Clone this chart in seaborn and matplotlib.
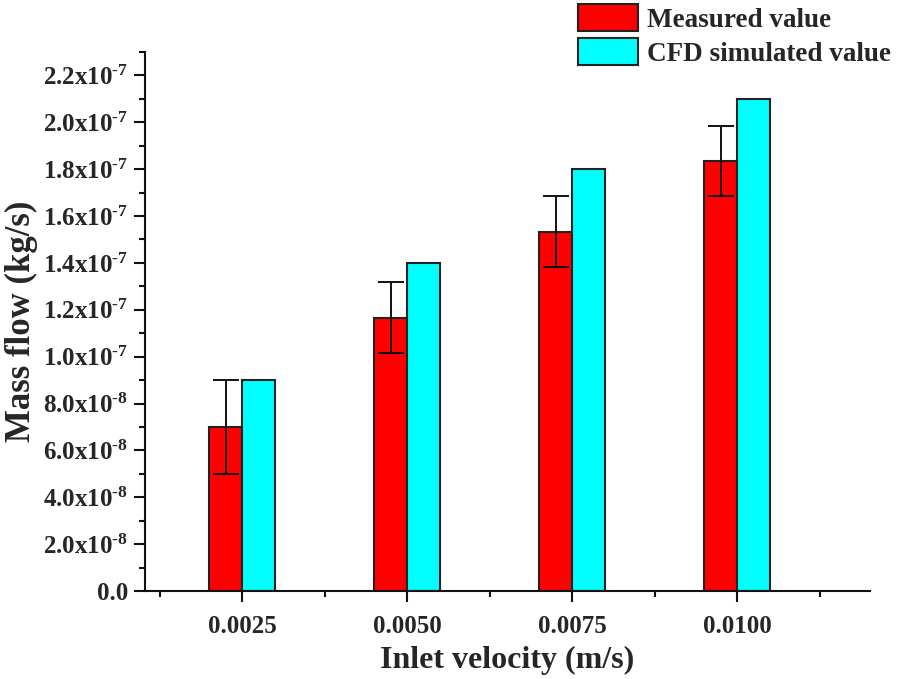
import numpy as np
import pandas as pd
import matplotlib
matplotlib.use("Agg")
import matplotlib.pyplot as plt
import seaborn as sns
from matplotlib.ticker import MultipleLocator, FuncFormatter, FixedLocator

velocities = ["0.0025", "0.0050", "0.0075", "0.0100"]
measured = [7.0e-8, 1.167e-7, 1.534e-7, 1.835e-7]
measured_err = [2.0e-8, 1.5e-8, 1.5e-8, 1.5e-8]
cfd = [9.0e-8, 1.4e-7, 1.8e-7, 2.1e-7]
series_names = ["Measured value", "CFD simulated value"]
colors = ["#ff0000", "#00ffff"]

sns.set_theme(style="ticks")
plt.rcParams['font.family'] = ['Liberation Serif', 'DejaVu Serif']
plt.rcParams['font.weight'] = 'bold'
plt.rcParams['mathtext.fontset'] = 'custom'
plt.rcParams['mathtext.rm'] = 'Liberation Serif:bold'
plt.rcParams['mathtext.bf'] = 'Liberation Serif:bold'
plt.rcParams['mathtext.it'] = 'Liberation Serif:bold'

df = pd.DataFrame({
    "velocity": velocities * 2,
    "value": measured + cfd,
    "series": [series_names[0]] * 4 + [series_names[1]] * 4,
})

fig = plt.figure(figsize=(8.98, 6.79), dpi=100)
ax = fig.add_axes([0.1615, 0.1296, 0.969 - 0.1615, 0.9234 - 0.1296])

sns.barplot(data=df, x="velocity", y="value", hue="series", order=velocities,
            hue_order=series_names, palette=colors, width=0.4, gap=0,
            edgecolor="#222222", linewidth=1.5, errorbar=None, ax=ax, saturation=1)

# error bars on measured
bars = ax.containers[0]
xs = [p.get_x() + p.get_width() / 2 for p in bars]
ax.errorbar(xs, measured, yerr=measured_err, fmt="none", ecolor="#111111",
            elinewidth=1.4, capsize=9.5, capthick=1.4, zorder=5)

ax.set_xlim(-0.588, 3.806)
ax.set_ylim(0, 2.30e-7)

ax.yaxis.set_major_locator(MultipleLocator(2e-8))
ax.yaxis.set_minor_locator(MultipleLocator(1e-8))

def fmt(v, pos):
    if abs(v) < 1e-12:
        return "0.0"
    exp = int(np.floor(np.log10(abs(v))))
    mant = v / 10 ** exp
    return r"$%.1f\mathrm{x}10^{\text{-}%d}$" % (mant, -exp)

ax.yaxis.set_major_formatter(FuncFormatter(fmt))
ax.xaxis.set_minor_locator(FixedLocator([-0.5, 0.5, 1.5, 2.5, 3.5]))

ax.tick_params(axis="both", which="major", direction="out", length=8, width=1.5,
               labelsize=18, color="#111111", pad=4)
ax.tick_params(axis="both", which="minor", direction="out", length=4.5, width=1.5,
               color="#111111")
ax.tick_params(axis="x", which="major", pad=9)
for lab in ax.get_xticklabels() + ax.get_yticklabels():
    lab.set_fontweight("bold")

sns.despine(ax=ax)
for s in ["left", "bottom"]:
    ax.spines[s].set_linewidth(1.5)
    ax.spines[s].set_color("#111111")

ax.set_xlabel("Inlet velocity (m/s)", fontsize=23, fontweight="bold", labelpad=6)
ax.set_ylabel("Mass flow (kg/s)", fontsize=25, fontweight="bold", labelpad=4)

leg = ax.legend(loc="upper left", bbox_to_anchor=(574 / 898, 1.0), bbox_transform=fig.transFigure,
                frameon=False, fontsize=19.5, handlelength=2.2, handleheight=1.15,
                labelspacing=0.2, borderaxespad=0.1, handletextpad=0.35, borderpad=0.05)
for t in leg.get_texts():
    t.set_fontweight("bold")

fig.savefig("out.png", dpi=100)
